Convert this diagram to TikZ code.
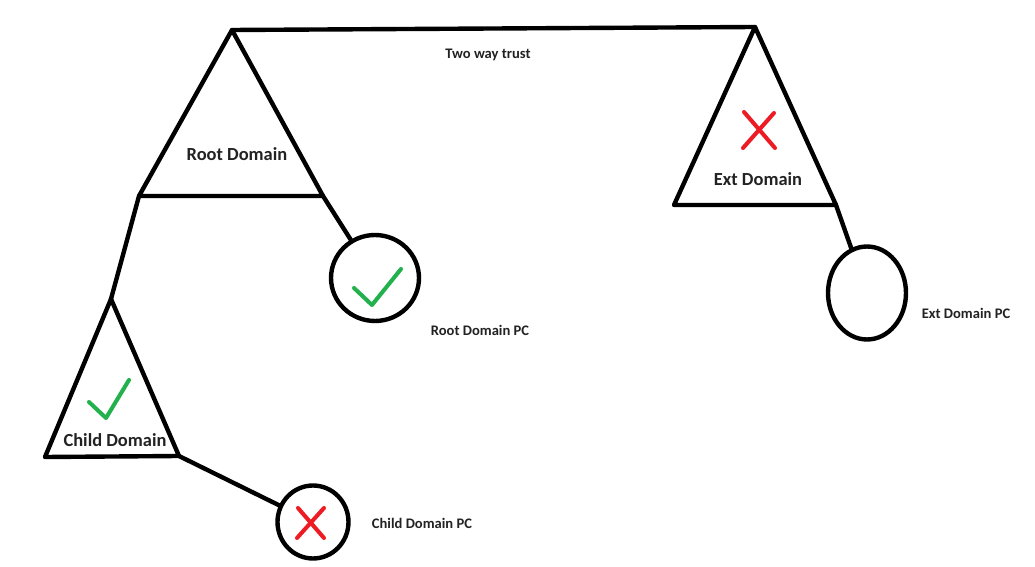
\documentclass[tikz,border=0pt]{standalone}
\usepackage{fontspec}
\setmainfont{Carlito}
\usetikzlibrary{shapes.geometric}
\definecolor{paintgreen}{RGB}{34,177,76}
\definecolor{paintred}{RGB}{237,28,36}
\definecolor{labelgray}{RGB}{34,34,34}
\tikzset{
  stroke/.style={line width=2.5pt, line join=round, line cap=round},
  pc/.style={ellipse, draw, line width=2.5pt, inner sep=0pt},
  domlabel/.style={font=\bfseries\fontsize{10.5}{12}\selectfont, text=labelgray, inner sep=0pt},
  pclabel/.style={font=\bfseries\fontsize{8.3}{10}\selectfont, text=labelgray, inner sep=0pt},
  okmark/.style={paintgreen, line width=2.3pt, line cap=round, line join=round},
  nomark/.style={paintred, line width=2.3pt, line cap=round}
}
\begin{document}
\begin{tikzpicture}[x=0.02cm, y=-0.02cm]
    \useasboundingbox (0,0) rectangle (1035,567);

    % Corners
    \coordinate (rootTop) at (232,30);
    \coordinate (rootL) at (139,196);
    \coordinate (rootR) at (323,196);
    \coordinate (extTop) at (755,27);
    \coordinate (extL) at (674,205);
    \coordinate (extR) at (836,205);
    \coordinate (childTop) at (111,299);
    \coordinate (childL) at (45,457);
    \coordinate (childR) at (179,456);

    % Triangles
    \draw[stroke] (rootTop) -- (rootR) -- (rootL) -- cycle;
    \draw[stroke] (extTop) -- (extR) -- (extL) -- cycle;
    \draw[stroke] (childTop) -- (childR) -- (childL) -- cycle;

    % PCs
    \node[pc, minimum width=1.76cm, minimum height=1.72cm] (rootpc) at (375,278) {};
    \node[pc, minimum width=1.42cm, minimum height=1.46cm] (childpc) at (313,522) {};
    \node[pc, minimum width=1.56cm, minimum height=1.86cm] (extpc) at (867,293) {};

    % Links
    \draw[stroke] (rootTop) -- (extTop);
    \draw[stroke] (rootL) -- (childTop);
    \draw[stroke] (rootR) -- (rootpc);
    \draw[stroke] (childR) -- (childpc);
    \draw[stroke] (extR) -- (extpc);

    % Labels
    \node[domlabel] (rootname) at (237,154) {Root Domain};
    \node[domlabel] (extname) at (758,179) {Ext Domain};
    \node[domlabel] (childname) at (115,440) {Child Domain};
    \node[pclabel] (rootpcname) at (480,330) {Root Domain PC};
    \node[pclabel] (childpcname) at (422,523) {Child Domain PC};
    \node[pclabel] (extpcname) at (966,313) {Ext Domain PC};
    \node[pclabel] (trust) at (488,55) {Two way trust};

    % Marks
    \draw[okmark] (354,288) -- (372,305) -- (401,269);
    \draw[okmark] (89,402) -- (106,418) -- (129,380);
    \draw[nomark] (298,508) -- (324,538);
    \draw[nomark] (324,508) -- (297,538);
    \draw[nomark] (744,112) -- (775,148);
    \draw[nomark] (774,113) -- (743,148);

  \end{tikzpicture}
\end{document}
